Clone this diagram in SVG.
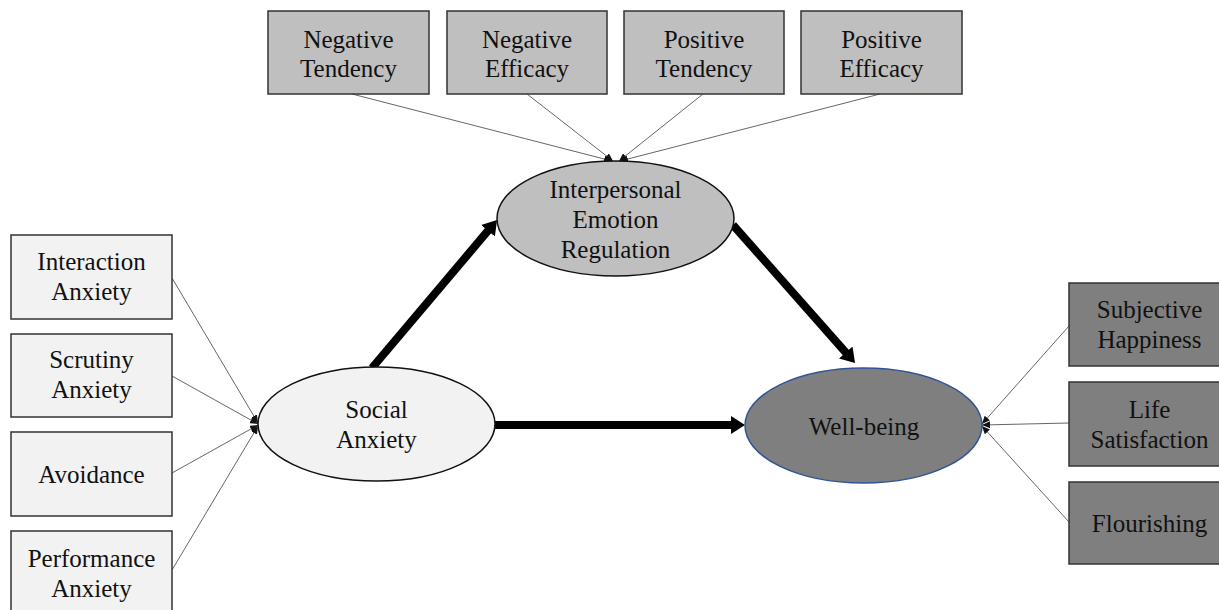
<svg xmlns="http://www.w3.org/2000/svg" width="1219" height="610" viewBox="0 0 1219 610">
<style>
text{font-family:"Liberation Serif","Times New Roman",serif;font-size:25px;fill:#111;text-anchor:middle}
.box{stroke:#333;stroke-width:1.5}
.top{fill:#bfbfbf}
.left{fill:#f2f2f2}
.right{fill:#7f7f7f}
.ell{stroke:#111;stroke-width:1.5}
.thin{stroke:#666;stroke-width:1;fill:none;marker-end:url(#sm)}
.thick{stroke:#000;stroke-width:8;fill:none;marker-end:url(#big)}
</style>
<defs>
<marker id="sm" markerUnits="userSpaceOnUse" markerWidth="9" markerHeight="7" refX="8" refY="3.5" orient="auto"><path d="M0,0 L8,3.5 L0,7 z" fill="#111"/></marker>
<marker id="big" markerUnits="userSpaceOnUse" markerWidth="15" markerHeight="19" refX="2" refY="9" orient="auto"><path d="M0,0 L14,9 L0,18 z" fill="#000"/></marker>
</defs>
<g id="connectors">
<line class="thin" x1="352" y1="94" x2="612" y2="161"/>
<line class="thin" x1="527" y1="94" x2="613" y2="161"/>
<line class="thin" x1="703" y1="94" x2="619" y2="161"/>
<line class="thin" x1="880" y1="94" x2="620" y2="161"/>
<line class="thin" x1="172" y1="278" x2="258" y2="423"/>
<line class="thin" x1="172" y1="376" x2="258" y2="424"/>
<line class="thin" x1="172" y1="473" x2="258" y2="425"/>
<line class="thin" x1="172" y1="570" x2="258" y2="426"/>
<line class="thin" x1="1069" y1="326" x2="982" y2="424"/>
<line class="thin" x1="1069" y1="423" x2="982" y2="425"/>
<line class="thin" x1="1069" y1="522" x2="982" y2="426"/>
<line class="thick" x1="372" y1="368" x2="489.3" y2="229.2"/>
<line class="thick" x1="733" y1="225" x2="847.1" y2="354"/>
<line class="thick" x1="495" y1="425" x2="733" y2="425"/>
</g>
<g id="negative-tendency"><rect class="box top" x="268" y="11" width="161" height="83"/><text x="348.5" y="48">Negative</text><text x="348.5" y="77">Tendency</text></g>
<g id="negative-efficacy"><rect class="box top" x="447" y="11" width="160" height="83"/><text x="527" y="48">Negative</text><text x="527" y="77">Efficacy</text></g>
<g id="positive-tendency"><rect class="box top" x="624" y="11" width="160" height="83"/><text x="704" y="48">Positive</text><text x="704" y="77">Tendency</text></g>
<g id="positive-efficacy"><rect class="box top" x="801" y="11" width="161" height="83"/><text x="881.5" y="48">Positive</text><text x="881.5" y="77">Efficacy</text></g>
<g id="ier"><ellipse class="ell top" cx="615.5" cy="218.5" rx="118.5" ry="57.5"/><text x="615.5" y="198">Interpersonal</text><text x="615.5" y="228">Emotion</text><text x="615.5" y="258">Regulation</text></g>
<g id="interaction-anxiety"><rect class="box left" x="11" y="235" width="161" height="84"/><text x="91.5" y="270">Interaction</text><text x="91.5" y="300">Anxiety</text></g>
<g id="scrutiny-anxiety"><rect class="box left" x="11" y="334" width="161" height="83"/><text x="91.5" y="368">Scrutiny</text><text x="91.5" y="398">Anxiety</text></g>
<g id="avoidance"><rect class="box left" x="11" y="432" width="161" height="84"/><text x="91.5" y="483">Avoidance</text></g>
<g id="performance-anxiety"><rect class="box left" x="11" y="531" width="161" height="84"/><text x="91.5" y="567">Performance</text><text x="91.5" y="597">Anxiety</text></g>
<g id="social-anxiety"><ellipse class="ell left" cx="376.5" cy="424" rx="118.5" ry="57"/><text x="376.5" y="418">Social</text><text x="376.5" y="448">Anxiety</text></g>
<g id="well-being"><ellipse class="right" cx="863.5" cy="425.5" rx="118.5" ry="57.5" stroke="#2f5597" stroke-width="1.5"/><text x="864" y="435">Well-being</text></g>
<g id="subjective-happiness"><rect class="box right" x="1069" y="283" width="161" height="83"/><text x="1149.5" y="318">Subjective</text><text x="1149.5" y="348">Happiness</text></g>
<g id="life-satisfaction"><rect class="box right" x="1069" y="382" width="161" height="84"/><text x="1149.5" y="418">Life</text><text x="1149.5" y="448">Satisfaction</text></g>
<g id="flourishing"><rect class="box right" x="1069" y="482" width="161" height="82"/><text x="1149.5" y="532">Flourishing</text></g>
</svg>
